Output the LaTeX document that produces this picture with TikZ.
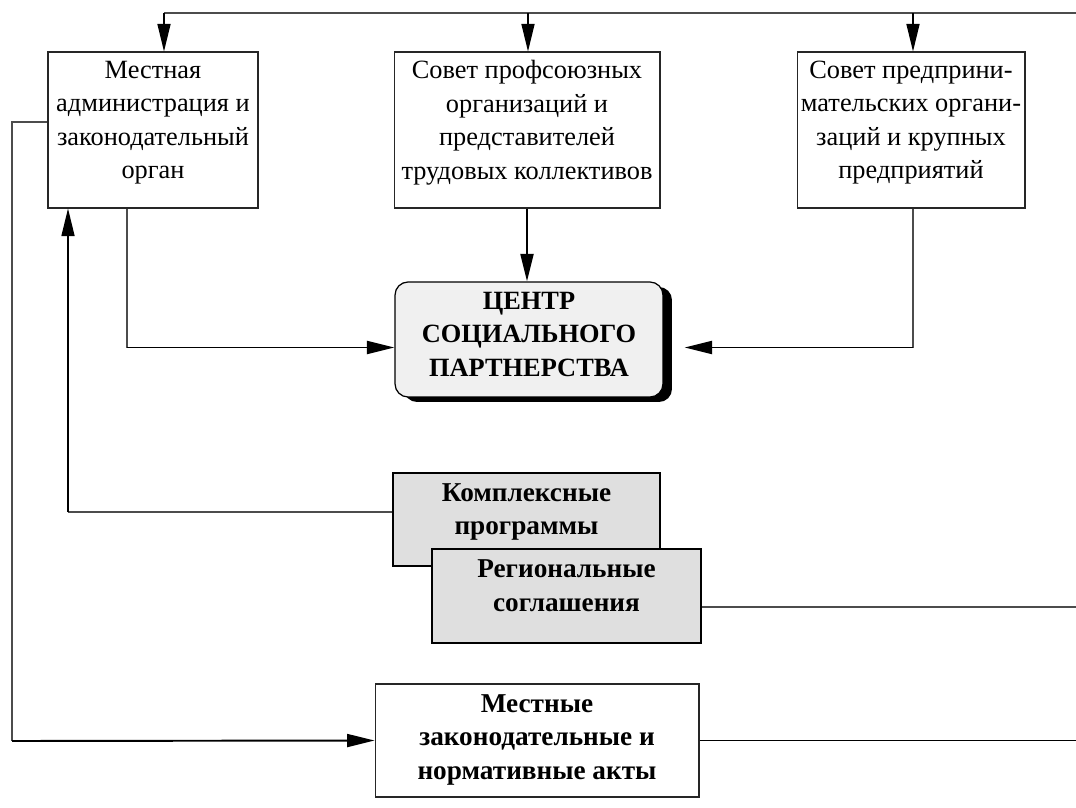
\documentclass[tikz,border=0pt]{standalone}
\usepackage{fontspec}
\setmainfont{Liberation Serif}
\usetikzlibrary{arrows.meta,shadows}

\begin{document}
\begin{tikzpicture}[x=0.02cm,y=-0.02cm,
    font=\fontsize{15}{19}\selectfont,
    whitebox/.style={rectangle,draw=black!85,line width=0.6pt,fill=white,align=center,inner sep=0pt,text depth=11.5pt},
    greybox/.style={rectangle,draw=black,line width=1.2pt,fill=gray!25,align=center,inner sep=0pt,font=\fontsize{15.5}{19}\selectfont\bfseries,text depth=12pt},
    thinline/.style={draw=black!70,line width=0.6pt},
    arrline/.style={draw=black,line width=1.1pt,-{Triangle[length=0.55cm,width=0.26cm]}}]
    \useasboundingbox (0,0) rectangle (1076,808);

    \node[whitebox,minimum width=4.2cm,minimum height=3.12cm] (admin) at (153,130) {Местная\\администрация и\\законодательный\\орган};
    \node[whitebox,minimum width=5.32cm,minimum height=3.12cm] (union) at (527,130) {Совет профсоюзных\\организаций и\\представителей\\трудовых коллективов};
    \node[whitebox,minimum width=4.56cm,minimum height=3.12cm] (biz) at (911,130) {Совет предприни-\\мательских органи-\\заций и крупных\\предприятий};

    \node[rectangle,rounded corners=0.26cm,draw=black,line width=0.7pt,fill=gray!12,
          drop shadow={shadow xshift=0.18cm,shadow yshift=-0.1cm,fill=black,opacity=1},
          align=center,inner sep=0pt,font=\fontsize{15}{19}\selectfont\bfseries,
          minimum width=5.36cm,minimum height=2.3cm,text depth=6pt] (ctr) at (529,339.5) {ЦЕНТР\\СОЦИАЛЬНОГО\\ПАРТНЕРСТВА};

    \node[greybox,minimum width=5.34cm,minimum height=1.86cm] (progs) at (526.5,519.5) {Комплексные\\программы};
    \node[greybox,minimum width=5.38cm,minimum height=1.88cm] (agr) at (566.5,596) {Региональные\\соглашения};

    \node[whitebox,font=\fontsize{15.5}{19}\selectfont\bfseries,minimum width=6.48cm,minimum height=2.26cm,text depth=4pt] (laws) at (537,740.5) {Местные\\законодательные и\\нормативные акты};

    \coordinate (topR) at (1076,13);
    \coordinate (leftB) at (12,741);
    \coordinate (aIn) at ([xshift=0.22cm]admin.north);
    \coordinate (uIn) at ([xshift=0.02cm]union.north);
    \coordinate (bIn) at ([xshift=0.04cm]biz.north);
    \coordinate (aOut) at ([yshift=0.16cm]admin.west);
    \coordinate (aDown) at ([xshift=-0.52cm]admin.south);
    \coordinate (aUp) at ([xshift=-1.7cm]admin.south);
    \coordinate (bDown) at ([xshift=0.04cm]biz.south);
    \coordinate (cIn) at ([yshift=-0.16cm]ctr.west);
    \coordinate (pOut) at ([yshift=0.15cm]progs.west);
    \coordinate (agrR) at ([yshift=-0.22cm]agr.east);

    \draw[thinline] (aIn |- topR) -- (topR);
    \draw[arrline,line width=0.8pt] (aIn |- topR) -- (aIn);
    \draw[arrline,line width=0.8pt] (uIn |- topR) -- (uIn);
    \draw[arrline,line width=0.8pt] (bIn |- topR) -- (bIn);

    \draw[thinline] (aOut) -- (aOut -| leftB) -- (leftB);
    \draw[arrline] (leftB) -- (laws.west);

    \draw[thinline] (aDown) -- (aDown |- cIn);
    \draw[arrline] (aDown |- cIn) -- (cIn);
    \draw[arrline] (union.south) -- (union.south |- ctr.north);
    \draw[thinline] (bDown) -- (bDown |- cIn);
    \draw[arrline,shorten >=0.42cm] (bDown |- cIn) -- (ctr.east |- cIn);

    \draw[thinline] (pOut) -- (pOut -| aUp);
    \draw[arrline,line width=0.8pt] (pOut -| aUp) -- (aUp);
    \draw[thinline] (agrR) -- (agrR -| topR);
    \draw[line width=0.8pt] (laws.east) -- (laws.east -| topR);
\end{tikzpicture}
\end{document}
